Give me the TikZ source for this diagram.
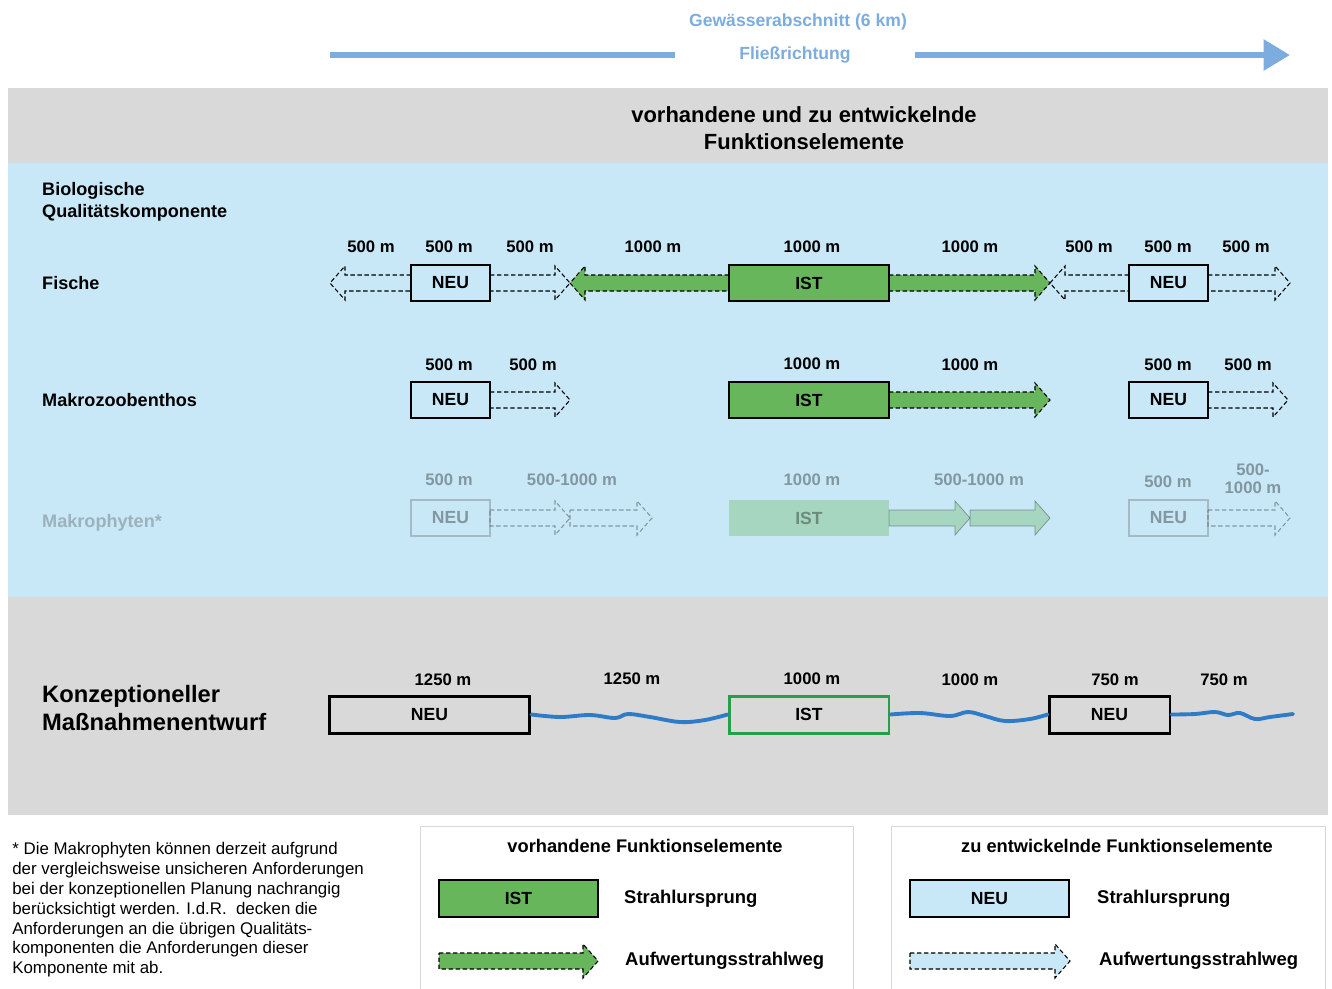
\documentclass[tikz,border=0pt]{standalone}
\usepackage{fontspec}
\setmainfont{Liberation Sans}
\usetikzlibrary{arrows.meta}

\definecolor{bandgrau}{RGB}{217,217,217}
\definecolor{bandblau}{RGB}{200,232,247}
\definecolor{istgruen}{RGB}{104,182,92}
\definecolor{randgruen}{RGB}{36,160,72}
\definecolor{flussblau}{RGB}{46,124,200}
\definecolor{kopfblau}{RGB}{125,172,222}
\definecolor{legendrand}{RGB}{215,215,215}

% Strahlweg: [Stil]{x Anfang}{x Spitze}{y}
\newcommand{\strahl}[4][]{%
  \pgfmathsetmacro\hb{#3-15*sign(#3-#2)}%
  \draw[#1] (#2,#4-8) -- (\hb,#4-8) -- (\hb,#4-17) -- (#3,#4)
    -- (\hb,#4+17) -- (\hb,#4+8) -- (#2,#4+8) -- cycle;}

\tikzset{
  box/.style={draw, line width=0.8pt, minimum height=0.72cm,
    font=\fontsize{10}{12}\selectfont\bfseries},
  neu/.style={box, minimum width=1.58cm},
  ist/.style={box, fill=istgruen, minimum width=3.2cm},
  weg/.style={draw, dash pattern=on 2.5pt off 1.5pt, line width=0.6pt},
  gruenweg/.style={weg, fill=istgruen},
  mass/.style={font=\fontsize{9.5}{11}\selectfont\bfseries},
  zeile/.style={anchor=west, align=left, font=\fontsize{10.3}{12.5}\selectfont\bfseries},
  wasser/.style={flussblau, line width=2.2pt, line cap=round},
  fluss/.style={kopfblau, line width=3.4pt},
  legtitel/.style={font=\fontsize{10.4}{12}\selectfont\bfseries},
  legtext/.style={anchor=west, font=\fontsize{10.5}{12}\selectfont\bfseries}
}

\begin{document}
\begin{tikzpicture}[x=0.02cm, y=-0.02cm]
  \useasboundingbox (0,0) rectangle (1332,988);

  % Kopf
  \node[font=\fontsize{10}{12}\selectfont\bfseries, text=kopfblau] (abschnitt) at (798,22) {Gewässerabschnitt (6 km)};
  \node[font=\fontsize{10}{12}\selectfont\bfseries, text=kopfblau] (fliess) at (795,55) {Fließrichtung};
  \coordinate (q0) at (330,55);
  \coordinate (q1) at (675,55);
  \coordinate (q2) at (915,55);
  \coordinate (q3) at (1290,55);
  \draw[fluss] (q0) -- (q1);
  \draw[fluss, -{Triangle[length=15pt,width=17pt]}] (q2) -- (q3);

  % Baender
  \fill[bandgrau] (8,88) rectangle (1328,163);
  \fill[bandblau] (8,163) rectangle (1328,597);
  \fill[bandgrau] (8,597) rectangle (1328,815);

  \node[align=center, font=\fontsize{12.5}{15.3}\selectfont\bfseries] (titel) at (804,128)
    {vorhandene und zu entwickelnde\\Funktionselemente};

  \node[zeile] (bio) at (36,202) {Biologische\\Qualitätskomponente};
  \node[zeile] (fische) at (36,283) {Fische};
  \node[zeile] (mzb) at (36,400) {Makrozoobenthos};

  % Fische
  \node[mass] (fl1) at (371,247) {500 m};
  \node[mass] (fl2) at (449,247) {500 m};
  \node[mass] (fl3) at (530,247) {500 m};
  \node[mass] (fl4) at (653,247) {1000 m};
  \node[mass] (fl5) at (812,247) {1000 m};
  \node[mass] (fl6) at (970,247) {1000 m};
  \node[mass] (fl7) at (1089,247) {500 m};
  \node[mass] (fl8) at (1168,247) {500 m};
  \node[mass] (fl9) at (1246,247) {500 m};
  \strahl[weg]{411}{330}{283}
  \strahl[weg]{490}{570}{283}
  \strahl[gruenweg]{729}{570}{283}
  \strahl[gruenweg]{889}{1050}{283}
  \strahl[weg]{1129}{1050}{283}
  \strahl[weg]{1208}{1290}{283}
  \node[neu] (fneu1) at (450.5,283) {NEU};
  \node[ist] (fist) at (809,283) {IST};
  \node[neu] (fneu2) at (1168.5,283) {NEU};

  % Makrozoobenthos
  \node[mass] (ml1) at (449,365) {500 m};
  \node[mass] (ml2) at (533,365) {500 m};
  \node[mass] (ml3) at (812,364) {1000 m};
  \node[mass] (ml4) at (970,365) {1000 m};
  \node[mass] (ml5) at (1168,365) {500 m};
  \node[mass] (ml6) at (1248,365) {500 m};
  \strahl[weg]{490}{570}{400}
  \strahl[gruenweg]{889}{1050}{400}
  \strahl[weg]{1208}{1288}{400}
  \node[neu] (mneu1) at (450.5,400) {NEU};
  \node[ist] (mist) at (809,400) {IST};
  \node[neu] (mneu2) at (1168.5,400) {NEU};

  % Makrophyten (blass)
  \begin{scope}[opacity=0.35]
    \node[zeile, text=black!70] (mph) at (36,523) {Makrophyten*};
    \node[mass] (pl1) at (449,480) {500 m};
    \node[mass] (pl2) at (572,480) {500-1000 m};
    \node[mass] (pl3) at (812,480) {1000 m};
    \node[mass] (pl4) at (979,480) {500-1000 m};
    \node[mass] (pl5) at (1168,482) {500 m};
    \node[mass, align=center, font=\fontsize{9.5}{10.5}\selectfont\bfseries] (pl6) at (1253,479) {500-\\1000 m};
    \strahl[weg]{490}{570}{518}
    \strahl[weg]{570}{652}{518}
    \strahl[fill=istgruen]{889}{970}{518}
    \strahl[fill=istgruen]{970}{1050}{518}
    \strahl[weg]{1208}{1290}{518}
    \node[neu, draw=black!60] (pneu1) at (450.5,518) {NEU};
    \node[ist, draw=none] (pist) at (809,518) {IST};
    \node[neu, draw=black!60] (pneu2) at (1168.5,518) {NEU};
  \end{scope}

  % Massnahmenentwurf
  \node[anchor=west, align=left, font=\fontsize{13.5}{15.5}\selectfont\bfseries] (konzept) at (36,708)
    {Konzeptioneller\\Maßnahmenentwurf};
  \node[mass] (kl1) at (443,680) {1250 m};
  \node[mass] (kl2) at (632,679) {1250 m};
  \node[mass] (kl3) at (812,679) {1000 m};
  \node[mass] (kl4) at (970,680) {1000 m};
  \node[mass] (kl5) at (1115,680) {750 m};
  \node[mass] (kl6) at (1224,680) {750 m};
  \node[box, line width=1.7pt, minimum width=4.02cm, minimum height=0.74cm] (kneu1) at (429.5,714.5) {NEU};
  \node[box, line width=1.7pt, draw=randgruen, minimum width=3.2cm, minimum height=0.74cm] (kist) at (809,714.5) {IST};
  \node[box, line width=1.7pt, minimum width=2.42cm, minimum height=0.74cm] (kneu2) at (1109.5,714.5) {NEU};
  \coordinate (kende) at (1293,714);
  \draw[wasser] plot[smooth, tension=0.6] coordinates {(kneu1.east) (560,717) (590,715) (615,718)
    (628,714) (650,717) (680,722) (705,720) (kist.west)};
  \draw[wasser] plot[smooth, tension=0.6] coordinates {(kist.east) (920,713) (950,716) (968,712)
    (985,716) (1005,721) (1030,719) (kneu2.west)};
  \draw[wasser] plot[smooth, tension=0.6] coordinates {(kneu2.east) (1195,714) (1215,712) (1228,715)
    (1240,713) (1255,719) (1270,717) (kende)};

  % Legende
  \node[anchor=north west, align=left, inner sep=0pt, font=\fontsize{9.6}{11.3}\selectfont] (fussnote) at (12,842)
    {* Die Makrophyten können derzeit aufgrund\\
     der vergleichsweise unsicheren Anforderungen\\
     bei der konzeptionellen Planung nachrangig\\
     berücksichtigt werden. I.d.R. \ decken die\\
     Anforderungen an die übrigen Qualitäts-\\
     komponenten die Anforderungen dieser\\
     Komponente mit ab.};

  \draw[legendrand] (420,990) -- (420,826) -- (853,826) -- (853,990);
  \draw[legendrand] (891,990) -- (891,826) -- (1325,826) -- (1325,990);

  \node[legtitel] (vorh) at (645,846) {vorhandene Funktionselemente};
  \node[box, fill=istgruen, minimum width=3.18cm, minimum height=0.74cm] (legist) at (518.5,898.5) {IST};
  \node[legtext] (legist1) at (618,899) {Strahlursprung};
  \strahl[gruenweg]{439}{598}{961}
  \node[legtext] (legist2) at (619,961) {Aufwertungsstrahlweg};

  \node[legtitel] (zuentw) at (1117,846) {zu entwickelnde Funktionselemente};
  \node[box, fill=bandblau, minimum width=3.18cm, minimum height=0.74cm] (legneu) at (989.5,898.5) {NEU};
  \node[legtext] (legneu1) at (1091,899) {Strahlursprung};
  \strahl[weg, fill=bandblau]{910}{1070}{961}
  \node[legtext] (legneu2) at (1093,961) {Aufwertungsstrahlweg};
\end{tikzpicture}
\end{document}
